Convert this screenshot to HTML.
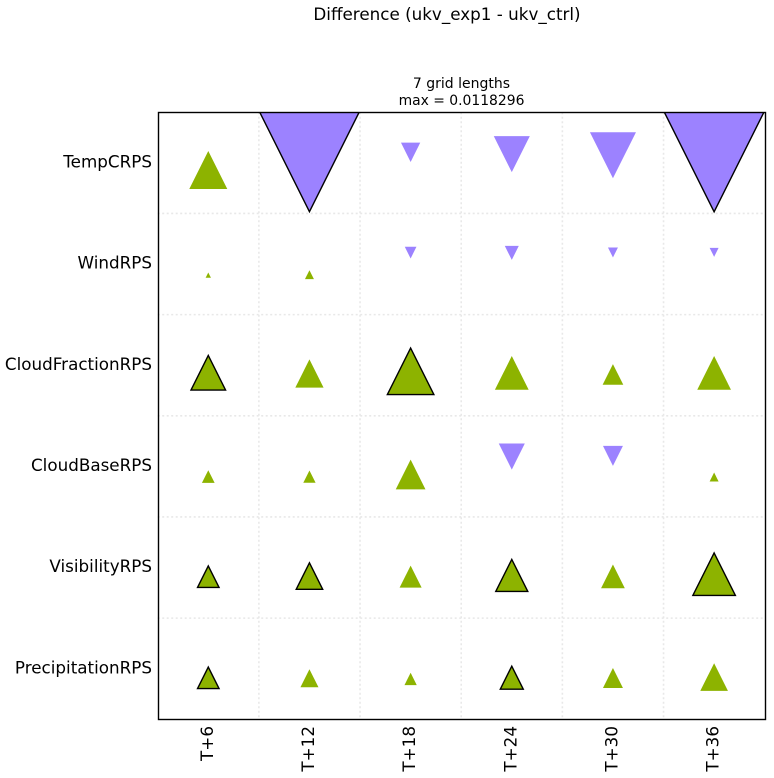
<!DOCTYPE html>
<html>
<head>
<meta charset="utf-8">
<title>Difference chart</title>
<style>
html,body{margin:0;padding:0;background:#fff;width:774px;height:778px;overflow:hidden}
svg{display:block}
text{font-family:"DejaVu Sans","Liberation Sans",sans-serif;fill:#000}
</style>
</head>
<body>
<svg id="chart" width="774" height="778" viewBox="0 0 774 778" xmlns="http://www.w3.org/2000/svg">
  <rect x="0" y="0" width="774" height="778" fill="#ffffff"/>
  <text x="447" y="20" font-size="16.75" text-anchor="middle">Difference (ukv_exp1 - ukv_ctrl)</text>
  <text x="461.5" y="88" font-size="14" text-anchor="middle">7 grid lengths</text>
  <text x="461.5" y="105" font-size="13.9" text-anchor="middle">max = 0.0118296</text>
  <defs>
    <clipPath id="plot-clip"><rect x="158.5" y="112.5" width="607" height="607"/></clipPath>
  </defs>
  <g id="grid"></g>
  <g id="marks" clip-path="url(#plot-clip)"></g>
  <rect x="158.5" y="112.5" width="607" height="607" fill="none" stroke="#000" stroke-width="1.4"/>
  <g id="ylabels"></g>
  <g id="xlabels"></g>
</svg>
<script>
var leadTimes = ["T+6", "T+12", "T+18", "T+24", "T+30", "T+36"];
var scores = ["TempCRPS", "WindRPS", "CloudFractionRPS", "CloudBaseRPS", "VisibilityRPS", "PrecipitationRPS"];
var maxValue = 0.0118296;
var tempCRPS = [0.00445, -0.0118, -0.00226, -0.00422, -0.00539, -0.0118296];
var windRPS = [0.00062, 0.00105, -0.00137, -0.00164, -0.00117, -0.00105];
var cloudFractionRPS = [0.00405, 0.00331, 0.00545, 0.00395, 0.00242, 0.00395];
var cloudBaseRPS = [0.00149, 0.00144, 0.00348, -0.00305, -0.00234, 0.00105];
var visibilityRPS = [0.00252, 0.00310, 0.00258, 0.00375, 0.00278, 0.00498];
var precipitationRPS = [0.00252, 0.00211, 0.00144, 0.00269, 0.00234, 0.00324];
var significantTemp = [0, 1, 0, 0, 0, 1];
var significantWind = [0, 0, 0, 0, 0, 0];
var significantCloudFraction = [1, 0, 1, 0, 0, 0];
var significantCloudBase = [0, 0, 0, 0, 0, 0];
var significantVisibility = [1, 1, 0, 1, 0, 1];
var significantPrecipitation = [1, 0, 0, 1, 0, 0];

var seriesValues = [tempCRPS, windRPS, cloudFractionRPS, cloudBaseRPS, visibilityRPS, precipitationRPS];
var seriesSignificant = [significantTemp, significantWind, significantCloudFraction, significantCloudBase, significantVisibility, significantPrecipitation];

var NS = "http://www.w3.org/2000/svg";
var plotLeft = 157.7, plotTop = 112.3, plotSize = 607;
var cellW = plotSize / leadTimes.length, cellH = plotSize / scores.length;
function xScale(i) { return plotLeft + (i + 0.5) * cellW; }
function yScale(j) { return plotTop + (j + 0.5) * cellH; }
function sizeScale(v) { return Math.abs(v) / maxValue * 101; }
function make(tag, attrs) {
  var el = document.createElementNS(NS, tag);
  for (var k in attrs) { el.setAttribute(k, attrs[k]); }
  return el;
}
var grid = document.getElementById("grid");
for (var c = 1; c < leadTimes.length; c++) {
  var gx = plotLeft + c * cellW;
  var vLine = make("line", {x1: gx, x2: gx, y1: plotTop, y2: plotTop + plotSize, stroke: "#e8e8e8", "stroke-width": 1.6, "stroke-dasharray": "2 2.5"});
  
  
  grid.appendChild(vLine);
}
for (var r = 1; r < scores.length; r++) {
  var gy = plotTop + r * cellH;
  var hLine = make("line", {x1: plotLeft, x2: plotLeft + plotSize, y1: gy, y2: gy, stroke: "#e8e8e8", "stroke-width": 1.6, "stroke-dasharray": "2 2.5"});
  
  
  grid.appendChild(hLine);
}
var marks = document.getElementById("marks");
scores.forEach(function (score, j) {
  leadTimes.forEach(function (lead, i) {
    var v = seriesValues[j][i];
    var s = sizeScale(v);
    var cx = xScale(i), rowY = yScale(j), cy, pts;
    if (v >= 0) {
      cy = rowY + 11.7 - 0.12 * s;
      pts = [[cx, cy - s / 2], [cx - s / 2, cy + s / 2], [cx + s / 2, cy + s / 2]];
    } else {
      cy = rowY - 12.7 + 0.11 * s;
      pts = [[cx, cy + s / 2], [cx - s / 2, cy - s / 2], [cx + s / 2, cy - s / 2]];
    }
    var sig = seriesSignificant[j][i];
    var tri = make("polygon", {
      points: pts.map(function (p) { return p[0].toFixed(2) + "," + p[1].toFixed(2); }).join(" "),
      fill: v >= 0 ? "#8db300" : "#9c82ff",
      stroke: sig ? "#000" : "none",
      "stroke-width": sig ? 1.4 : 0,
      "stroke-linejoin": "miter"
    });
    
    
    marks.appendChild(tri);
  });
});
var ylabels = document.getElementById("ylabels");
scores.forEach(function (score, j) {
  var t = make("text", {x: 152, y: yScale(j) + 4.6, "font-size": 16.75, "text-anchor": "end"});
  t.textContent = score;
  
  
  ylabels.appendChild(t);
});
var xlabels = document.getElementById("xlabels");
leadTimes.forEach(function (lead, i) {
  var x = xScale(i) + 4.6, y = 726;
  var t = make("text", {x: x, y: y, "font-size": 16.75, "text-anchor": "end", transform: "rotate(-90 " + x + " " + y + ")"});
  t.textContent = lead;
  
  
  xlabels.appendChild(t);
});
</script>
</body>
</html>
